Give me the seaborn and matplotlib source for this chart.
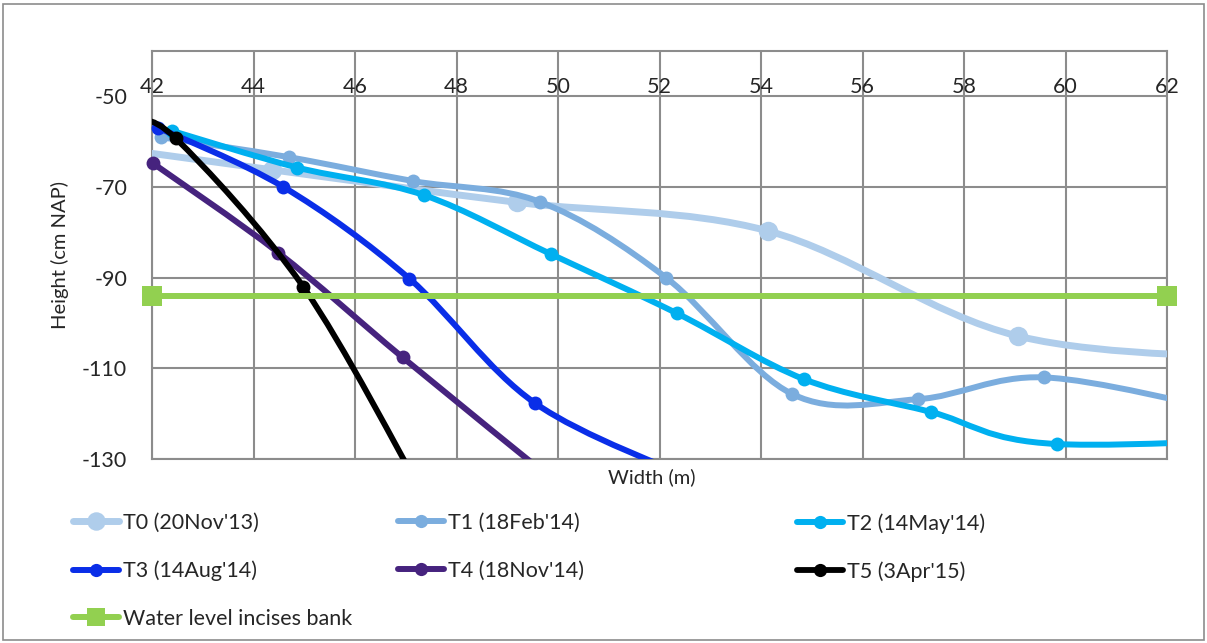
import numpy as np
import matplotlib
matplotlib.use("Agg")
import matplotlib.pyplot as plt
import matplotlib.transforms as mtransforms
import seaborn as sns
from matplotlib.path import Path
from matplotlib.patches import PathPatch, Rectangle
from matplotlib.lines import Line2D

# bank profiles (first/last points of some series lie outside the view)
t0_x = [40.0, 44.36, 49.2, 54.14, 59.07, 64.5]
t0_y = [-59.5, -66.2, -73.4, -79.7, -102.9, -108.0]
t1_x = [42.17, 44.69, 47.15, 49.65, 52.13, 54.62, 57.1, 59.58, 63.2]
t1_y = [-59.0, -63.4, -68.7, -73.3, -90.0, -115.7, -116.8, -112.0, -119.5]
t2_x = [42.39, 44.86, 47.36, 49.86, 52.35, 54.85, 57.34, 59.84, 66.0]
t2_y = [-57.6, -65.7, -71.8, -84.8, -97.9, -112.4, -119.6, -126.7, -124.5]
t3_x = [42.12, 44.59, 47.07, 49.55, 52.8]
t3_y = [-56.9, -70.0, -90.2, -117.7, -135.0]
t4_x = [42.01, 44.49, 46.94, 50.0]
t4_y = [-64.7, -84.5, -107.6, -135.5]
t5_x = [41.6, 42.47, 44.98, 47.3]
t5_y = [-55.3, -59.3, -92.0, -137.0]
water_x = [42, 62]
water_y = [-94, -94]

labels = ["T0 (20Nov'13)", "T1 (18Feb'14)", "T2 (14May'14)",
          "T3 (14Aug'14)", "T4 (18Nov'14)", "T5 (3Apr'15)"]
water_label = "Water level incises bank"
x_ticks = [42, 44, 46, 48, 50, 52, 54, 56, 58, 60, 62]
y_ticks = [-130, -110, -90, -70, -50]

colors = ["#afcdeb", "#7badde", "#00b0f0", "#0a2ee8", "#46237e", "#000000"]
water_color = "#92d050"
grid_color = "#8c8c8c"

sns.set_style("white")
plt.rcParams["font.family"] = ["Lato", "DejaVu Sans"]
plt.rcParams["axes.unicode_minus"] = False
FS = 15.5


def smooth_path(xs, ys):
    """Excel-like smoothed line: Catmull-Rom segments as cubic Bezier curves."""
    pts = np.column_stack([xs, ys]).astype(float)
    n = len(pts)
    verts = [pts[0]]
    codes = [Path.MOVETO]
    for i in range(n - 1):
        p0 = pts[max(i - 1, 0)]
        p1 = pts[i]
        p2 = pts[i + 1]
        p3 = pts[min(i + 2, n - 1)]
        verts += [p1 + (p2 - p0) / 6, p2 - (p3 - p1) / 6, p2]
        codes += [Path.CURVE4] * 3
    return Path(verts, codes)


fig = plt.figure(figsize=(12.07, 6.43), dpi=100)
ax = fig.add_axes([152 / 1207, 1 - 459 / 643, 1015 / 1207, 408 / 643])

series = [(t0_x, t0_y), (t1_x, t1_y), (t2_x, t2_y),
          (t3_x, t3_y), (t4_x, t4_y), (t5_x, t5_y)]
line_w = [5.0, 4.3, 4.3, 4.3, 4.3, 4.2]
mark_s = [14, 10, 10, 10, 10, 10]

for i, (xs, ys) in enumerate(series):
    ax.add_patch(PathPatch(smooth_path(xs, ys), fill=False, edgecolor=colors[i],
                           lw=line_w[i], capstyle="butt", zorder=3 + i))
    xs_a = np.array(xs)
    ys_a = np.array(ys)
    inside = (xs_a >= 42) & (xs_a <= 62) & (ys_a >= -130) & (ys_a <= -40)
    sns.scatterplot(x=xs_a[inside], y=ys_a[inside], color=colors[i], s=mark_s[i] ** 2,
                    linewidth=0, clip_on=False, zorder=3.5 + i, ax=ax)

sns.lineplot(x=water_x, y=water_y, color=water_color, lw=4.3, marker="s",
             markersize=14, markeredgewidth=0, clip_on=False, zorder=10, ax=ax)

ax.set_xlim(42, 62)
ax.set_ylim(-130, -40)
ax.set_xticks(x_ticks)
ax.set_yticks(y_ticks)
ax.grid(True, color=grid_color, lw=1.5)
ax.set_axisbelow(True)
for sp in ax.spines.values():
    sp.set_color(grid_color)
    sp.set_linewidth(1.5)
ax.tick_params(axis="x", length=0, labelbottom=False)
ax.tick_params(axis="y", length=0, pad=18, labelsize=FS)

# x tick labels sit just above the -50 gridline
lab_tr = mtransforms.offset_copy(ax.transData, fig=fig, y=3, units="dots")
for xt in x_ticks:
    ax.text(xt, -50, str(xt), ha="center", va="baseline", fontsize=FS,
            transform=lab_tr, zorder=2)

ax.set_xlabel("Width (m)", fontsize=FS - 1)
ax.xaxis.set_label_coords(0.492, -0.022)
ax.xaxis.label.set_va("top")
ax.set_ylabel("Height (cm NAP)", fontsize=FS - 1)
ax.yaxis.set_label_coords(-0.082, 0.5)


def handle(color, marker, ms, lw):
    return Line2D([], [], color=color, lw=lw, marker=marker, markersize=ms,
                  markeredgewidth=0)


h = [handle(colors[i], "o", mark_s[i] * 0.95, line_w[i]) for i in range(6)]
hw = handle(water_color, "s", 13, 4.3)
columns = [([h[0], h[3], hw], [labels[0], labels[3], water_label], 73),
           ([h[1], h[4]], [labels[1], labels[4]], 398),
           ([h[2], h[5]], [labels[2], labels[5]], 797)]
for hs, ls, xpx in columns:
    leg = fig.legend(hs, ls, loc="upper left", bbox_to_anchor=(xpx / 1207, 1 - 513 / 643),
                     frameon=False, fontsize=FS, borderpad=0, borderaxespad=0,
                     handlelength=2.15, handletextpad=0.15, labelspacing=1.28)

fig.patches.append(Rectangle((3 / 1207, 3 / 643), 1201 / 1207, 636 / 643,
                             transform=fig.transFigure, fill=False,
                             edgecolor="#8c8c8c", lw=1.2))

fig.savefig("out.png", dpi=100)
